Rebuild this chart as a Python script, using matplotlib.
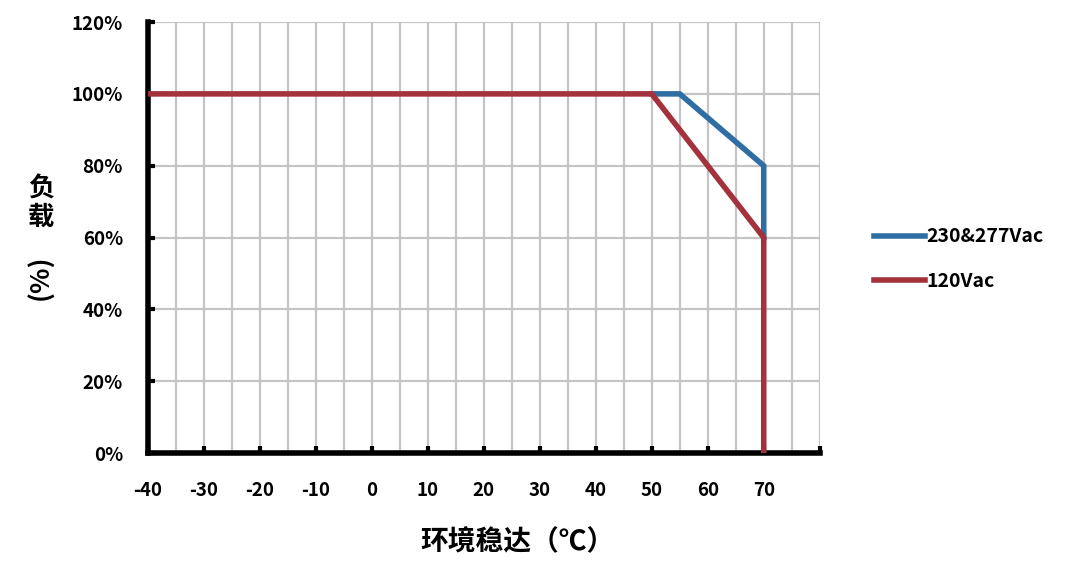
import matplotlib
matplotlib.use("Agg")
import matplotlib.pyplot as plt
from matplotlib.ticker import MultipleLocator

plt.rcParams['font.family'] = ['Noto Sans CJK SC', 'DejaVu Sans']

# derating curves: ambient temperature (C) vs load (%)
temp_230 = [50, 55, 70, 70]
load_230 = [100, 100, 80, 60]
temp_120 = [-40, 50, 70, 70]
load_120 = [100, 100, 60, 0]

x_ticks = [-40, -30, -20, -10, 0, 10, 20, 30, 40, 50, 60, 70]
y_ticks = [0, 20, 40, 60, 80, 100, 120]

blue = "#2f6ea3"
red = "#a3323c"

fig = plt.figure(figsize=(10.8, 5.65), dpi=100)
ax = fig.add_axes([0.137, 0.198, 0.622, 0.763])

ax.plot(temp_230, load_230, color=blue, lw=4, solid_joinstyle="miter", label="230&277Vac", zorder=3)
ax.plot(temp_120, load_120, color=red, lw=4, solid_joinstyle="miter", label="120Vac", zorder=4)

ax.set_xlim(-40, 80)
ax.set_ylim(0, 120)
ax.xaxis.set_minor_locator(MultipleLocator(5))
ax.set_xticks(x_ticks + [80])
ax.set_xticklabels([str(v) for v in x_ticks] + [""])
ax.set_yticks(y_ticks)
ax.set_yticklabels([f"{v}%" for v in y_ticks])

ax.grid(which="both", axis="x", color="#c4c4c4", lw=1.6)
ax.grid(which="major", axis="y", color="#c4c4c4", lw=1.6)
ax.set_axisbelow(True)

for side in ("top", "right"):
    ax.spines[side].set_visible(False)
for side in ("left", "bottom"):
    ax.spines[side].set_linewidth(4)
    ax.spines[side].set_color("black")

ax.tick_params(axis="both", which="major", direction="in", length=5, width=3,
               labelsize=13.5, colors="black")
ax.tick_params(axis="x", which="minor", length=0)
ax.tick_params(axis="x", pad=20)
ax.tick_params(axis="y", pad=18)
for lbl in ax.get_xticklabels() + ax.get_yticklabels():
    lbl.set_fontweight("bold")

ax.set_xlabel("环境稳达（℃）", fontsize=20, fontweight="bold")
ax.xaxis.set_label_coords(0.55, -0.175)

fig.text(0.038, 0.64, "负\n载", fontsize=19, fontweight="bold", ha="center", va="center",
         linespacing=1.05)
fig.text(0.038, 0.51, "(%)", fontsize=19, fontweight="bold", ha="center", va="center",
         rotation=90)

leg = ax.legend(loc="center left", bbox_to_anchor=(1.055, 0.45), frameon=False,
                fontsize=14, handlelength=2.6, handletextpad=0.1, labelspacing=1.3)
for t in leg.get_texts():
    t.set_fontweight("bold")

fig.savefig("out.png", dpi=100)
